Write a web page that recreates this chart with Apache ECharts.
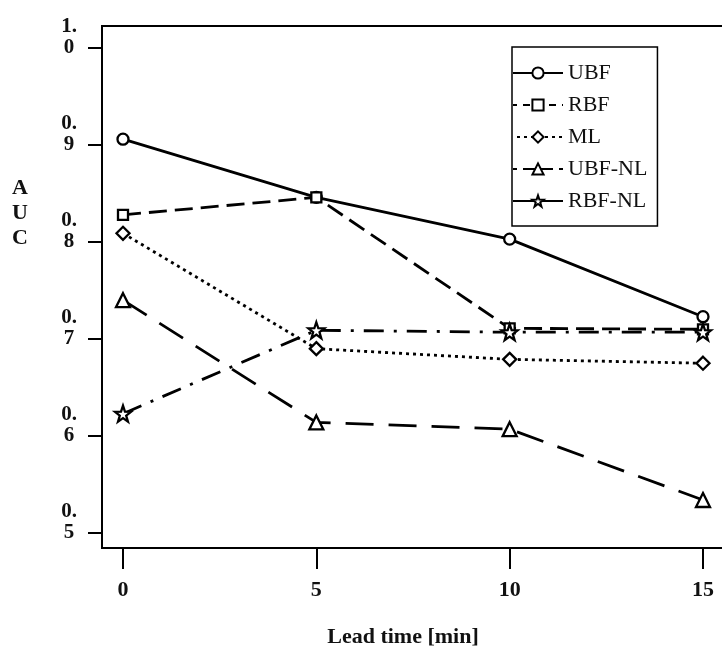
<!DOCTYPE html>
<html>
<head>
<meta charset="utf-8">
<script src="https://cdn.jsdelivr.net/npm/echarts@6/dist/echarts.min.js"></script>
<style>
  html, body { margin: 0; padding: 0; background: #fff; }
  #chart { width: 722px; height: 646px; }
</style>
</head>
<body>
<div id="chart"></div>
<script>
var aucChart = echarts.init(document.getElementById("chart"));

// lead time in minutes
var leadTimes = [0, 5, 10, 15];
var xTicks = [0, 5, 10, 15];
var yTicks = [0.5, 0.6, 0.7, 0.8, 0.9, 1.0];

// AUC
var ubf   = [0.906, 0.846, 0.803, 0.723];
var rbf   = [0.828, 0.846, 0.711, 0.710];
var ml    = [0.809, 0.690, 0.679, 0.675];
var ubfNl = [0.740, 0.614, 0.607, 0.534];
var rbfNl = [0.623, 0.709, 0.707, 0.707];

var starPath = 'path://M0,-10 L2.35,-3.24 L9.51,-3.09 L3.8,1.24 L5.88,8.09 L0,4 L-5.88,8.09 L-3.8,1.24 L-9.51,-3.09 L-2.35,-3.24 Z';
var serif = 'Liberation Serif';

function pairs(vals) {
    var res = [];
    for (var i = 0; i < leadTimes.length; i++) {
        res.push([leadTimes[i], vals[i]]);
    }
    return res;
}

/* one line series, black, open markers */
function makeSeries(name, vals, dash, symbol, size) {
    return {
        name: name,
        type: 'line',
        data: pairs(vals),
        symbol: symbol,
        symbolSize: size,
        showAllSymbol: true,
        animation: false,
        lineStyle: { color: '#000', width: 2.8, type: dash },
        itemStyle: { color: '#fff', borderColor: '#000', borderWidth: 2.3 }
    };
}

var option = {
    animation: false,
    grid: {
        left: 102, top: 26, right: -4, bottom: 98,
        outerBoundsMode: 'none',
        show: true, borderColor: '#000', borderWidth: 2
    },
    legend: {
        left: 512, top: 47,
        orient: 'vertical',
        selectedMode: false,
        borderColor: '#000', borderWidth: 1.5,
        padding: [15, 10, 14, 0],
        itemWidth: 50, itemHeight: 14, itemGap: 10,
        textStyle: { fontFamily: serif, fontSize: 22, color: '#111' },
        data: [
            { name: 'UBF' },
            { name: 'RBF', lineStyle: { type: [7, 6], dashOffset: 3 } },
            { name: 'ML' },
            { name: 'UBF-NL', lineStyle: { type: [12, 6], dashOffset: 8 } },
            { name: 'RBF-NL', lineStyle: { type: 'solid' } }
        ]
    },
    xAxis: {
        type: 'value',
        min: -0.543, max: 15.595,
        name: 'Lead time [min]',
        nameLocation: 'middle',
        nameGap: 78,
        nameTextStyle: { fontFamily: serif, fontSize: 22, fontWeight: 'bold', color: '#111', padding: [0, 22, 0, 0] },
        axisLine: { show: false, onZero: false },
        splitLine: { show: false },
        axisTick: { customValues: xTicks, length: 21, lineStyle: { color: '#000', width: 2 } },
        axisLabel: {
            customValues: xTicks, margin: 31,
            fontFamily: serif, fontSize: 22, fontWeight: 'bold', color: '#111'
        }
    },
    yAxis: {
        type: 'value',
        min: 0.4845, max: 1.0227,
        axisLine: { show: false, onZero: false },
        splitLine: { show: false },
        axisTick: { customValues: yTicks, length: 14, lineStyle: { color: '#000', width: 2 } },
        axisLabel: {
            customValues: yTicks, margin: 33, align: 'center',
            fontFamily: serif, fontSize: 21, fontWeight: 'bold', color: '#111', lineHeight: 21,
            formatter: function (v) {
                var s = v.toFixed(1);
                return s.slice(0, 2) + '\n' + s.slice(2) + '\n ';
            }
        }
    },
    graphic: [{
        type: 'text',
        style: {
            text: 'A\nU\nC', x: 20, y: 213,
            align: 'center', verticalAlign: 'middle',
            font: 'bold 22px "Liberation Serif"', lineHeight: 25, fill: '#111'
        }
    }],
    series: [
        makeSeries('UBF', ubf, 'solid', 'circle', 11),
        makeSeries('RBF', rbf, [18, 8], 'rect', 10),
        makeSeries('ML', ml, [3, 4], 'diamond', 13),
        makeSeries('UBF-NL', ubfNl, [28, 15], 'triangle', 14),
        makeSeries('RBF-NL', rbfNl, [20, 10, 3, 10], starPath, 16)
    ]
};

aucChart.setOption(option);
</script>
</body>
</html>
